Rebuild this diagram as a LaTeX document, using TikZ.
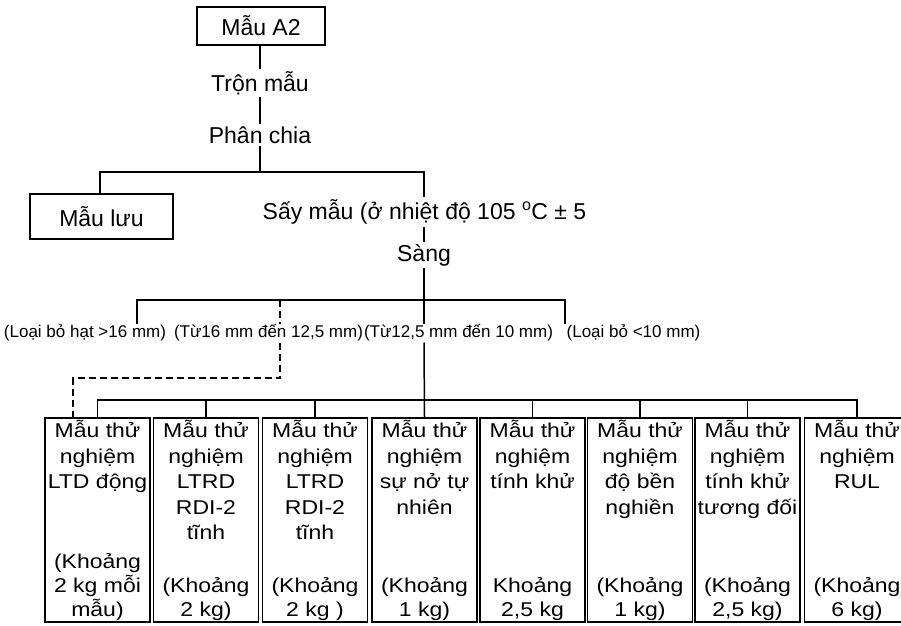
\documentclass[tikz,border=0pt]{standalone}
\usepackage{fontspec}
\setmainfont{Liberation Sans}
\newfontfamily\boxfont[FakeStretch=1.15]{Liberation Sans}
\usetikzlibrary{positioning}

\tikzset{
  stagetxt/.style={font=\fontsize{23}{26}\selectfont, inner sep=2pt},
  framebox/.style={draw, line width=1.7pt, inner sep=0pt},
  sievetxt/.style={font=\fontsize{17}{20}\selectfont, inner sep=1pt},
  testbox/.style={draw, line width=1.7pt, minimum width=105pt, minimum height=204pt, inner sep=0pt},
  testtop/.style={anchor=north, align=center, font=\boxfont\fontsize{20}{25.5}\selectfont, inner sep=3pt},
  testbot/.style={anchor=south, align=center, font=\boxfont\fontsize{20}{24}\selectfont, inner sep=2pt},
  link/.style={line width=1.5pt},
  dashlink/.style={line width=1.5pt, dash pattern=on 7pt off 4pt}
}

\begin{document}
\begin{tikzpicture}[x=1pt,y=-1pt]
  \useasboundingbox (0,0) rectangle (901,625);

  % sample preparation
  \node[framebox, stagetxt, minimum width=128pt, minimum height=38pt] (mauA) at (261,26) {Mẫu A2};
  \node[stagetxt] (tron) at (260,83) {Trộn mẫu};
  \node[stagetxt] (phan) at (260,135) {Phân chia};
  \node[framebox, stagetxt, minimum width=143pt, minimum height=45pt] (luu) at (101.5,216.5) {Mẫu lưu};
  \node[stagetxt] (say) at (424.5,212) {Sấy mẫu (ở nhiệt độ 105 \textsuperscript{o}C ± 5};
  \node[stagetxt] (sang) at (424,255) {Sàng};

  \coordinate (br1) at (260,172);
  \draw[link] (mauA.south -| tron) -- (tron);
  \draw[link] (tron) -- (phan);
  \draw[link] (phan) -- (br1);
  \draw[link] (luu.north -| 100,0) |- (br1) -| (say.north -| sang);
  \draw[link] (say.south -| sang) -- (sang);

  % sieving fractions
  \node[sievetxt] (lab1) at (85,333) {(Loại bỏ hạt >16 mm)};
  \node[sievetxt] (lab2) at (268.5,333) {(Từ16 mm đến 12,5 mm)};
  \node[sievetxt] (lab3) at (458.5,333) {(Từ12,5 mm đến 10 mm)};
  \node[sievetxt] (lab4) at (633.5,333) {(Loại bỏ <10 mm)};

  \coordinate (sj) at (424,300);
  \coordinate (t1) at (137,300);
  \coordinate (t2) at (280,300);
  \coordinate (t4) at (565,300);
  \coordinate (dj) at (73,378);
  \draw[link] (sang) -- (sj) -- (sj |- lab3.north);
  \draw[link] (t1 |- lab1.north) -- (t1) -- (t4) -- (t4 |- lab4.north);
  \draw[dashlink] (t2) -- (t2 |- lab2.north);

  % test samples
  \node[testbox] (box1) at (97.5,520) {};
  \node[testbox] (box2) at (206,520) {};
  \node[testbox] (box3) at (315,520) {};
  \node[testbox] (box4) at (424.5,520) {};
  \node[testbox] (box5) at (532.5,520) {};
  \node[testbox] (box6) at (640,520) {};
  \node[testbox] (box7) at (747.5,520) {};
  \node[testbox] (box8) at (857,520) {};

  \node[testtop] (top1) at (box1.north) {Mẫu thử\\nghiệm\\LTD động};
  \node[testtop] (top2) at (box2.north) {Mẫu thử\\nghiệm\\LTRD\\RDI-2\\tĩnh};
  \node[testtop] (top3) at (box3.north) {Mẫu thử\\nghiệm\\LTRD\\RDI-2\\tĩnh};
  \node[testtop] (top4) at (box4.north) {Mẫu thử\\nghiệm\\sự nở tự\\nhiên};
  \node[testtop] (top5) at (box5.north) {Mẫu thử\\nghiệm\\tính khử};
  \node[testtop] (top6) at (box6.north) {Mẫu thử\\nghiệm\\độ bền\\nghiền};
  \node[testtop] (top7) at (box7.north) {Mẫu thử\\nghiệm\\tính khử\\tương đối};
  \node[testtop] (top8) at (box8.north) {Mẫu thử\\nghiệm\\RUL};

  \node[testbot] (bot1) at (box1.south) {(Khoảng\\2 kg mỗi\\mẫu)};
  \node[testbot] (bot2) at (box2.south) {(Khoảng\\2 kg)};
  \node[testbot] (bot3) at (box3.south) {(Khoảng\\2 kg )};
  \node[testbot] (bot4) at (box4.south) {(Khoảng\\1 kg)};
  \node[testbot] (bot5) at (box5.south) {Khoảng\\2,5 kg};
  \node[testbot] (bot6) at (box6.south) {(Khoảng\\1 kg)};
  \node[testbot] (bot7) at (box7.south) {(Khoảng\\2,5 kg)};
  \node[testbot] (bot8) at (box8.south) {(Khoảng\\6 kg)};

  \coordinate (bb) at (424,400);
  \draw[link] (lab3.south -| sj) -- (box4.north);
  \draw[link] (box1.north) |- (bb) -| (box8.north);
  \draw[link] (box2.north) -- (box2.north |- bb);
  \draw[link] (box3.north) -- (box3.north |- bb);
  \draw[link] (box5.north) -- (box5.north |- bb);
  \draw[link] (box6.north) -- (box6.north |- bb);
  \draw[link] (box7.north) -- (box7.north |- bb);
  \draw[dashlink] (lab2.south -| t2) |- (dj) -- (dj |- box1.north);
\end{tikzpicture}
\end{document}
